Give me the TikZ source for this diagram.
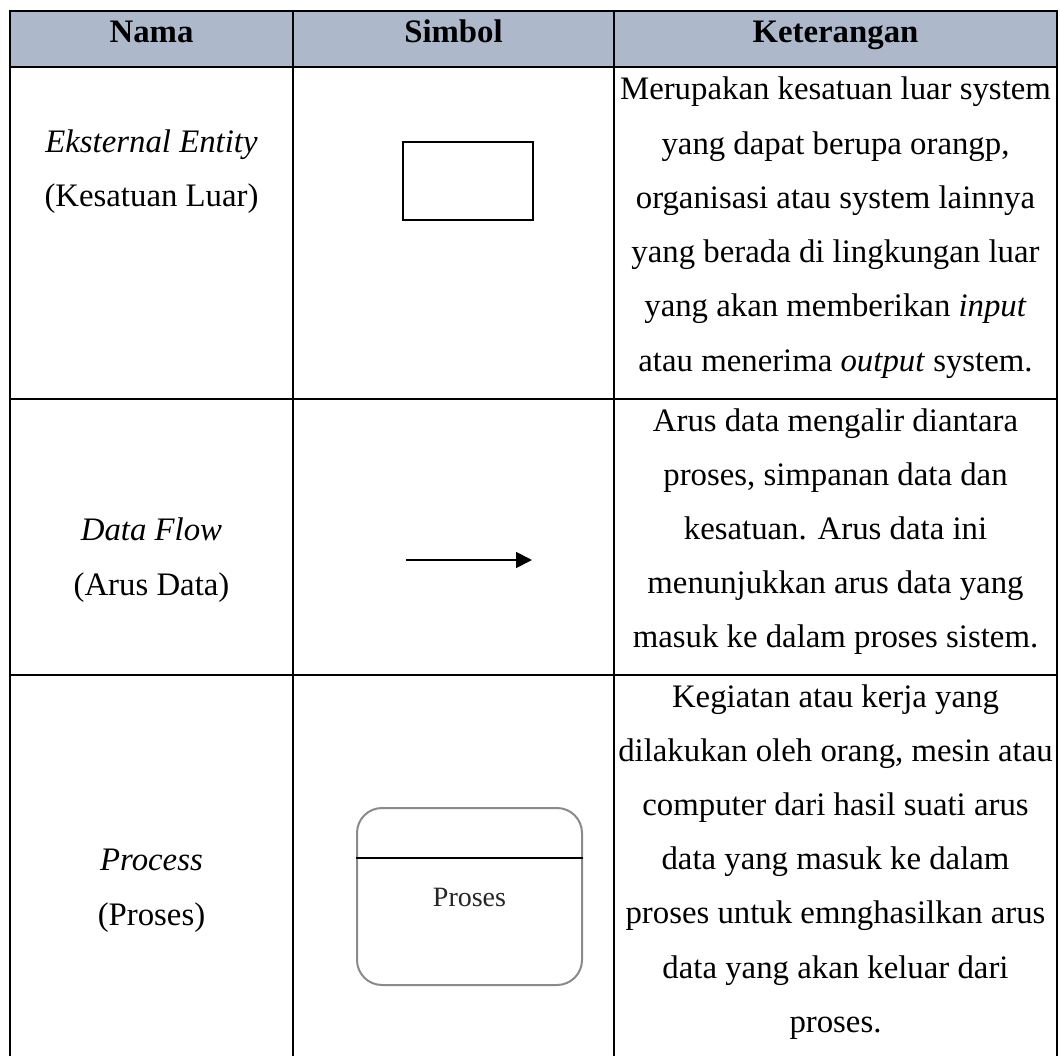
\documentclass[tikz,border=0pt]{standalone}
\usepackage{fontspec}
\setmainfont{Liberation Serif}
\usetikzlibrary{arrows.meta}
\definecolor{hdr}{HTML}{ADB9CA}
\definecolor{procline}{HTML}{8A8A8A}
\begin{document}
\begin{tikzpicture}[x=1pt,y=-1pt,
  grid/.style={line width=2.4pt, black},
  body/.style={font=\fontsize{32.8}{54.2}\selectfont, align=center, inner sep=0pt, anchor=base},
  head/.style={font=\fontsize{32.8}{38}\selectfont\bfseries, inner sep=0pt, anchor=base},
  entbox/.style={draw, line width=2.5pt, minimum width=130pt, minimum height=78pt, inner sep=0pt},
  procbox/.style={draw=procline, line width=2pt, rounded corners=25pt, minimum width=225pt, minimum height=177pt, inner sep=0pt},
  flow/.style={line width=1.8pt, -{Triangle[length=16pt,width=16pt]}}]
\useasboundingbox (0,0) rectangle (1060,1056);
% header fill
\fill[hdr] (10,11) rectangle (1057,67);
% grid
\draw[grid] (10,1056) -- (10,11) -- (1057,11) -- (1057,1056);
\draw[grid] (10,67) -- (1057,67);
\draw[grid] (10,399) -- (1057,399);
\draw[grid] (10,675) -- (1057,675);
\draw[grid] (293,11) -- (293,1056);
\draw[grid] (614,11) -- (614,1056);
% header
\node[head] (hnama) at (151.5,43) {Nama};
\node[head] (hsimbol) at (453.5,43) {Simbol};
\node[head] (hket) at (835.5,43) {Keterangan};
% row 1 (base anchor = baseline of the last line)
\node[body] (n1) at (151.5,206.5) {\textit{Eksternal Entity}\\(Kesatuan Luar)};
\node[entbox] (ent) at (468,181) {};
\node[body] (k1) at (835.5,371) {Merupakan kesatuan luar system\\yang dapat berupa orangp,\\organisasi atau system lainnya\\yang berada di lingkungan luar\\yang akan memberikan \textit{input}\\atau menerima \textit{output} system.};
% row 2
\node[body] (n2) at (151.5,595) {\textit{Data Flow}\\(Arus Data)};
\coordinate (fa) at (406,560);
\coordinate (fb) at (532,560);
\draw[flow] (fa) -- (fb);
\node[body] (k2) at (835.5,647.8) {Arus data mengalir diantara\\proses, simpanan data dan\\kesatuan. Arus data ini\\menunjukkan arus data yang\\masuk ke dalam proses sistem.};
% row 3
\node[body] (n3) at (151.5,925) {\textit{Process}\\(Proses)};
\node[procbox] (proc) at (469.5,896.5) {};
\draw[line width=1.3pt] (proc.west |- 0,858) -- (proc.east |- 0,858);
\node[font=\fontsize{28}{32}\selectfont, text=black!85, inner sep=0pt] (ptext) at (469.5,897) {Proses};
\node[body] (k3) at (835.5,1032.2) {Kegiatan atau kerja yang\\dilakukan oleh orang, mesin atau\\computer dari hasil suati arus\\data yang masuk ke dalam\\proses untuk emnghasilkan arus\\data yang akan keluar dari\\proses.};
\end{tikzpicture}
\end{document}
